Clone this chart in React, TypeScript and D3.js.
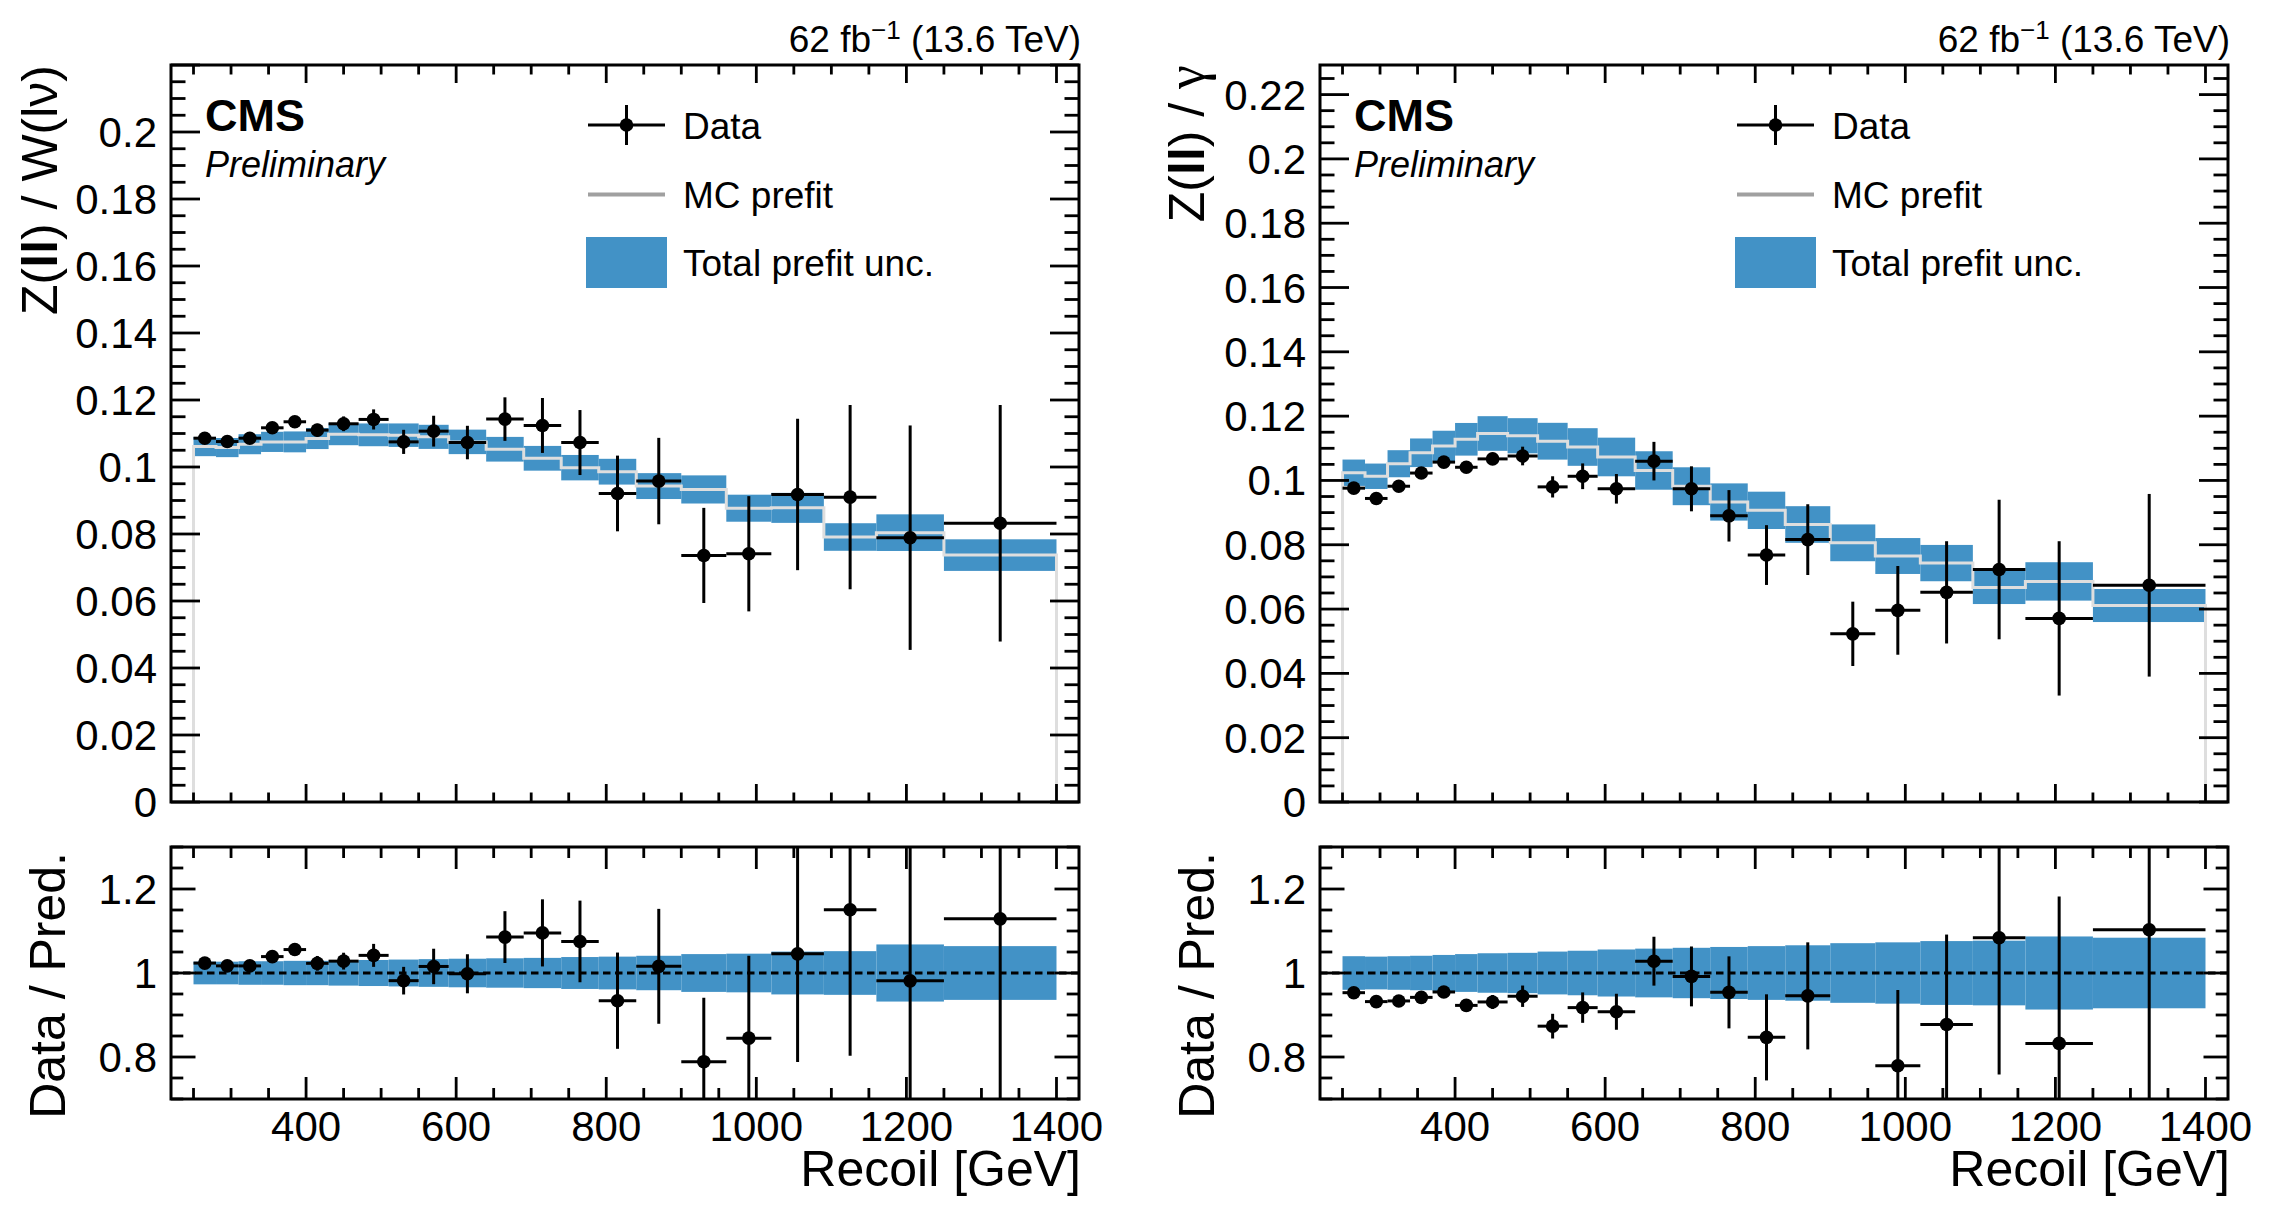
import React from 'react';
import * as d3 from 'd3';

// recoil binning [GeV]
const binEdges = [250, 280, 310, 340, 370, 400, 430, 470, 510, 550, 590, 640, 690, 740, 790, 840, 900, 960, 1020, 1090, 1160, 1250, 1400];

// Z(ll) / W(lnu)
const zwData = [0.1086, 0.1076, 0.1086, 0.1117, 0.1135, 0.1110, 0.1129, 0.1142, 0.1075, 0.1107, 0.1073, 0.1143, 0.1124, 0.1073, 0.0921, 0.0958, 0.0736, 0.0741, 0.0918, 0.0910, 0.0789, 0.0832];
const zwErr = [0.0012, 0.0012, 0.0012, 0.0014, 0.0016, 0.0019, 0.0022, 0.0030, 0.0036, 0.0046, 0.0050, 0.0065, 0.0082, 0.0097, 0.0113, 0.0129, 0.0142, 0.0172, 0.0226, 0.0275, 0.0335, 0.0353];
const zwPred = [0.1061, 0.1058, 0.1068, 0.1075, 0.1075, 0.1085, 0.1098, 0.1096, 0.1095, 0.1090, 0.1075, 0.1053, 0.1026, 0.0998, 0.0986, 0.0943, 0.0933, 0.0877, 0.0878, 0.0791, 0.0804, 0.0737];
const zwRelUnc = [0.027, 0.027, 0.028, 0.028, 0.029, 0.029, 0.030, 0.031, 0.032, 0.033, 0.034, 0.035, 0.036, 0.038, 0.039, 0.041, 0.045, 0.046, 0.051, 0.052, 0.068, 0.064];

// Z(ll) / photon
const zgData = [0.0976, 0.0944, 0.0982, 0.1023, 0.1057, 0.1041, 0.1067, 0.1076, 0.0980, 0.1013, 0.0974, 0.1060, 0.0974, 0.0890, 0.0768, 0.0816, 0.0523, 0.0596, 0.0652, 0.0723, 0.0571, 0.0674];
const zgErr = [0.0012, 0.0012, 0.0013, 0.0014, 0.0015, 0.0016, 0.0019, 0.0029, 0.0033, 0.0040, 0.0046, 0.0060, 0.0070, 0.0080, 0.0093, 0.0110, 0.0100, 0.0138, 0.0159, 0.0217, 0.0240, 0.0284];
const zgPred = [0.1024, 0.1013, 0.1052, 0.1086, 0.1107, 0.1128, 0.1146, 0.1139, 0.1122, 0.1104, 0.1073, 0.1031, 0.0982, 0.0933, 0.0907, 0.0863, 0.0806, 0.0765, 0.0743, 0.0667, 0.0686, 0.0611];
const zgRelUnc = [0.040, 0.039, 0.040, 0.041, 0.043, 0.045, 0.047, 0.048, 0.051, 0.053, 0.056, 0.058, 0.060, 0.062, 0.064, 0.066, 0.071, 0.073, 0.076, 0.077, 0.087, 0.084];

// axis ticks
const xTicks = [400, 600, 800, 1000, 1200, 1400];
const zwYTicks = [0, 0.02, 0.04, 0.06, 0.08, 0.1, 0.12, 0.14, 0.16, 0.18, 0.2];
const zgYTicks = [0, 0.02, 0.04, 0.06, 0.08, 0.1, 0.12, 0.14, 0.16, 0.18, 0.2, 0.22];
const ratioTicks = [0.8, 1, 1.2];

const W = 2284;
const H = 1222;
const SANS = '"Liberation Sans", Arial, Helvetica, sans-serif';
const SERIF = '"Liberation Serif", "Times New Roman", serif';
const BLUE = '#4292c6';

const FRAME_W = 908;
const TOP = { y0: 65, y1: 802 };
const RAT = { y0: 847, y1: 1099 };

const fmt = (v: number) => `${+v.toFixed(3)}`;

type PanelProps = {
  left: number;
  yMax: number;
  yTicks: number[];
  data: number[];
  err: number[];
  pred: number[];
  unc: number[];
  title: React.ReactNode;
};

function Panel({ left, yMax, yTicks, data, err, pred, unc, title }: PanelProps) {
  const right = left + FRAME_W;
  const x = d3.scaleLinear().domain([220, 1430]).range([left, right]);
  const y = d3.scaleLinear().domain([0, yMax]).range([TOP.y1, TOP.y0]);
  const r = d3.scaleLinear().domain([0.7, 1.3]).range([RAT.y1, RAT.y0]);

  const bins = pred.map((p, i) => ({ lo: binEdges[i], hi: binEdges[i + 1], p, u: unc[i], d: data[i], e: err[i] }));

  const xMinor = d3.range(250, 1430, 50).filter((v) => !xTicks.includes(v));
  const yMinor = d3.range(0, Math.round(yMax / 0.005) + 1).map((k) => k * 0.005).filter((v) => v <= yMax);
  const rMinor = d3.range(0, 13).map((k) => 0.7 + k * 0.05);

  // MC prefit as step histogram down to zero at both ends
  const stepPts: [number, number][] = [[binEdges[0], 0]];
  bins.forEach((b) => { stepPts.push([b.lo, b.p]); stepPts.push([b.hi, b.p]); });
  stepPts.push([binEdges[binEdges.length - 1], 0]);
  const step = d3.line<[number, number]>().x((d) => x(d[0])).y((d) => y(d[1]));

  const clipId = `rclip${left}`;
  const tk = { stroke: 'black', strokeWidth: 2.8 };
  const lbl = { fontFamily: SANS, fontSize: 42 };

  return (
    <g>
      <defs>
        <clipPath id={clipId}>
          <rect x={left} y={RAT.y0} width={FRAME_W} height={RAT.y1 - RAT.y0} />
        </clipPath>
      </defs>

      {/* ---- top panel ---- */}
      {bins.map((b, i) => (
        <rect key={`b${i}`} x={x(b.lo)} width={x(b.hi) - x(b.lo)} y={y(b.p * (1 + b.u))}
          height={y(b.p * (1 - b.u)) - y(b.p * (1 + b.u))} fill={BLUE} />
      ))}
      <path d={step(stepPts) ?? ''} fill="none" stroke="#dedede" strokeWidth={3} />
      {bins.map((b, i) => (
        <g key={`d${i}`}>
          <line x1={x(b.lo)} x2={x(b.hi)} y1={y(b.d)} y2={y(b.d)} stroke="black" strokeWidth={3} />
          <line x1={x((b.lo + b.hi) / 2)} x2={x((b.lo + b.hi) / 2)} y1={y(b.d - b.e)} y2={y(b.d + b.e)} stroke="black" strokeWidth={3} />
          <circle cx={x((b.lo + b.hi) / 2)} cy={y(b.d)} r={6.8} fill="black" />
        </g>
      ))}

      {/* ticks top panel */}
      {xTicks.map((v) => (
        <g key={`xt${v}`}>
          <line x1={x(v)} x2={x(v)} y1={TOP.y1} y2={TOP.y1 - 18} {...tk} />
          <line x1={x(v)} x2={x(v)} y1={TOP.y0} y2={TOP.y0 + 18} {...tk} />
        </g>
      ))}
      {xMinor.map((v) => (
        <g key={`xm${v}`}>
          <line x1={x(v)} x2={x(v)} y1={TOP.y1} y2={TOP.y1 - 9.5} {...tk} />
          <line x1={x(v)} x2={x(v)} y1={TOP.y0} y2={TOP.y0 + 9.5} {...tk} />
        </g>
      ))}
      {yMinor.map((v, i) => {
        const major = i % 4 === 0;
        const len = major ? 29 : 14.5;
        return (
          <g key={`ym${i}`}>
            <line x1={left} x2={left + len} y1={y(v)} y2={y(v)} {...tk} />
            <line x1={right} x2={right - len} y1={y(v)} y2={y(v)} {...tk} />
          </g>
        );
      })}
      {yTicks.map((v) => (
        <text key={`yl${v}`} x={left - 14} y={y(v) + 15} textAnchor="end" {...lbl}>{fmt(v)}</text>
      ))}
      <rect x={left} y={TOP.y0} width={FRAME_W} height={TOP.y1 - TOP.y0} fill="none" stroke="black" strokeWidth={3} />

      {/* header texts */}
      <text x={right + 2} y={52} textAnchor="end" fontFamily={SANS} fontSize={37}>
        62 fb<tspan dy={-13} fontSize={26}>−1</tspan><tspan dy={13}> (13.6 TeV)</tspan>
      </text>
      <text x={left + 34} y={131} fontFamily={SANS} fontSize={45} fontWeight="bold">CMS</text>
      <text x={left + 34} y={177} fontFamily={SANS} fontSize={36} fontStyle="italic">Preliminary</text>

      {/* legend */}
      <g>
        <line x1={left + 417} x2={left + 494} y1={125} y2={125} stroke="black" strokeWidth={3} />
        <line x1={left + 455.5} x2={left + 455.5} y1={105} y2={145} stroke="black" strokeWidth={3} />
        <circle cx={left + 455.5} cy={125} r={6.8} fill="black" />
        <text x={left + 512} y={139} fontFamily={SANS} fontSize={37}>Data</text>
        <line x1={left + 417} x2={left + 494} y1={194.5} y2={194.5} stroke="#a0a0a0" strokeWidth={4} />
        <text x={left + 512} y={208} fontFamily={SANS} fontSize={37}>MC prefit</text>
        <rect x={left + 415} y={237} width={81} height={51} fill={BLUE} />
        <text x={left + 512} y={276} fontFamily={SANS} fontSize={37}>Total prefit unc.</text>
      </g>

      {title}

      {/* ---- ratio panel ---- */}
      {bins.map((b, i) => (
        <rect key={`rb${i}`} x={x(b.lo)} width={x(b.hi) - x(b.lo)} y={r(1 + b.u)}
          height={r(1 - b.u) - r(1 + b.u)} fill={BLUE} />
      ))}
      <line x1={left} x2={right} y1={r(1)} y2={r(1)} stroke="black" strokeWidth={3} strokeDasharray="7.5 4.5" />
      <g clipPath={`url(#${clipId})`}>
        {bins.filter((b) => b.d / b.p >= 0.7 && b.d / b.p <= 1.3).map((b, i) => {
          const v = b.d / b.p;
          const e = b.e / b.p;
          const cx = x((b.lo + b.hi) / 2);
          return (
            <g key={`rd${i}`}>
              <line x1={x(b.lo)} x2={x(b.hi)} y1={r(v)} y2={r(v)} stroke="black" strokeWidth={3} />
              <line x1={cx} x2={cx} y1={r(v - e)} y2={r(v + e)} stroke="black" strokeWidth={3} />
              <circle cx={cx} cy={r(v)} r={6.8} fill="black" />
            </g>
          );
        })}
      </g>
      {xTicks.map((v) => (
        <g key={`rxt${v}`}>
          <line x1={x(v)} x2={x(v)} y1={RAT.y1} y2={RAT.y1 - 22} {...tk} />
          <line x1={x(v)} x2={x(v)} y1={RAT.y0} y2={RAT.y0 + 22} {...tk} />
          <text x={x(v)} y={1141} textAnchor="middle" {...lbl}>{v}</text>
        </g>
      ))}
      {xMinor.map((v) => (
        <g key={`rxm${v}`}>
          <line x1={x(v)} x2={x(v)} y1={RAT.y1} y2={RAT.y1 - 11} {...tk} />
          <line x1={x(v)} x2={x(v)} y1={RAT.y0} y2={RAT.y0 + 11} {...tk} />
        </g>
      ))}
      {rMinor.map((v, i) => {
        const major = ratioTicks.some((t) => Math.abs(t - v) < 1e-6);
        const len = major ? 24.5 : 12.3;
        return (
          <g key={`rym${i}`}>
            <line x1={left} x2={left + len} y1={r(v)} y2={r(v)} {...tk} />
            <line x1={right} x2={right - len} y1={r(v)} y2={r(v)} {...tk} />
          </g>
        );
      })}
      {ratioTicks.map((v) => (
        <text key={`rl${v}`} x={left - 14} y={r(v) + 15} textAnchor="end" {...lbl}>{fmt(v)}</text>
      ))}
      <rect x={left} y={RAT.y0} width={FRAME_W} height={RAT.y1 - RAT.y0} fill="none" stroke="black" strokeWidth={3} />

      <text transform={`translate(${left - 106},852) rotate(-90)`} textAnchor="end" fontFamily={SANS} fontSize={50}>Data / Pred.</text>
      <text x={right + 2} y={1186} textAnchor="end" fontFamily={SANS} fontSize={50}>Recoil [GeV]</text>
    </g>
  );
}

export default function App() {
  const leftA = 171;
  const leftB = 1320;
  return (
    <svg width={W} height={H} viewBox={`0 0 ${W} ${H}`}
      style={{ position: 'absolute', left: 0, top: 0, background: 'white', display: 'block' }}>
      <rect width={W} height={H} fill="white" />
      <Panel left={leftA} yMax={0.22} yTicks={zwYTicks} data={zwData} err={zwErr} pred={zwPred} unc={zwRelUnc}
        title={
          <text transform={`translate(${leftA - 114},65) rotate(-90)`} textAnchor="end" fontFamily={SANS} fontSize={50}>
            Z(<tspan fontWeight="bold">ll</tspan>) / W(lν)
          </text>
        } />
      <Panel left={leftB} yMax={0.2292} yTicks={zgYTicks} data={zgData} err={zgErr} pred={zgPred} unc={zgRelUnc}
        title={
          <text transform={`translate(${leftB - 116},65) rotate(-90)`} textAnchor="end" fontFamily={SANS} fontSize={50}>
            Z(<tspan fontWeight="bold">ll</tspan>) / <tspan fontFamily={SERIF} fontSize={54}>γ</tspan>
          </text>
        } />
    </svg>
  );
}
